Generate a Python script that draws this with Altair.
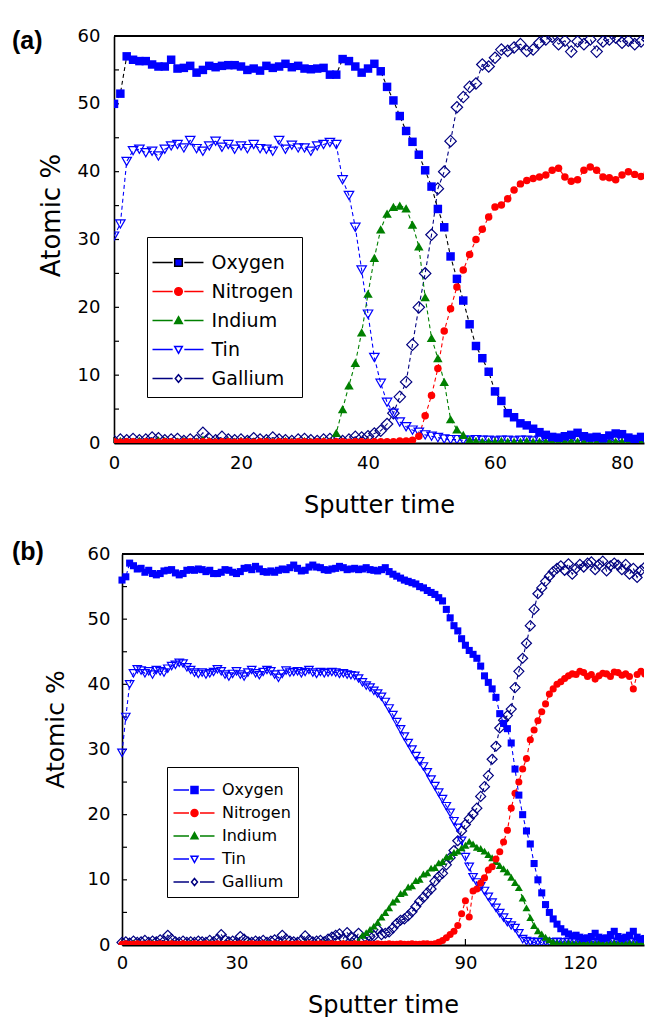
import altair as alt
import pandas as pd

FONT = "DejaVu Sans"
SERIES = ["Oxygen", "Nitrogen", "Indium", "Tin", "Gallium"]
DRAW_ORDER = ["Gallium", "Tin", "Indium", "Nitrogen", "Oxygen"]

# ---------------- panel (a) ----------------
A_TIME = list(range(85))
A_OXYGEN = [50.0, 51.5, 57.0, 56.5, 56.3, 56.3, 55.8, 55.5, 55.5, 56.5,
            55.2, 55.3, 55.6, 54.6, 55.0, 55.6, 55.4, 55.6, 55.7, 55.7,
            55.5, 55.0, 55.2, 54.9, 55.6, 55.3, 55.5, 55.9, 55.4, 55.6,
            55.2, 55.1, 55.2, 55.3, 54.3, 54.3, 56.6, 56.3, 55.5, 54.6,
            55.2, 55.9, 54.8, 52.5, 50.5, 48.2, 46.0, 44.4, 42.5, 40.2,
            37.8, 34.5, 31.8, 27.5, 24.2, 21.0, 17.5, 14.3, 12.5, 10.5,
            7.6, 6.2, 4.4, 3.8, 2.9, 2.6, 2.1, 1.6, 1.2, 0.9,
            0.8, 1.0, 1.2, 1.5, 1.0, 0.8, 0.9, 0.7, 1.1, 1.4,
            1.3, 0.8, 0.6, 0.9, 0.7]
A_NITROGEN = [0.2, 0.1, 0.2, 0.2, 0.1, 0.2, 0.2, 0.1, 0.2, 0.2,
              0.1, 0.2, 0.2, 0.1, 0.2, 0.2, 0.1, 0.2, 0.2, 0.1,
              0.2, 0.2, 0.1, 0.2, 0.2, 0.1, 0.2, 0.2, 0.1, 0.2,
              0.2, 0.1, 0.2, 0.2, 0.1, 0.2, 0.2, 0.1, 0.2, 0.2,
              0.1, 0.2, 0.2, 0.2, 0.2, 0.3, 0.3, 0.4, 1.0, 4.0,
              7.0, 11.0, 16.5, 19.8, 23.0, 25.5, 27.8, 30.0, 31.5, 33.3,
              34.8, 35.1, 36.0, 37.3, 38.2, 38.7, 39.0, 39.2, 39.5, 40.2,
              40.5, 39.2, 38.6, 38.8, 40.2, 40.7, 40.2, 39.2, 39.1, 38.8,
              39.5, 40.0, 39.6, 39.3, 39.8]
A_INDIUM = [0.2, 0.3, 0.2, 0.2, 0.3, 0.2, 0.2, 0.4, 0.3, 0.2,
            0.2, 0.3, 0.2, 0.2, 0.5, 0.3, 0.2, 0.2, 0.3, 0.2,
            0.2, 0.3, 0.2, 0.2, 0.3, 0.2, 0.2, 0.3, 0.2, 0.2,
            0.3, 0.2, 0.2, 0.3, 0.2, 1.5, 5.0, 8.5, 11.8, 16.3,
            22.0, 27.3, 31.5, 33.8, 34.8, 35.0, 34.6, 32.2, 29.0, 21.5,
            15.5, 12.5, 9.0, 3.5, 2.0, 1.2, 0.5, 0.3, 0.2, 0.2,
            0.2, 0.3, 0.2, 0.2, 0.2, 0.3, 0.2, 0.2, 0.2, 0.2,
            0.2, 0.2, 0.3, 0.2, 0.2, 0.2, 0.2, 0.3, 0.2, 0.2,
            0.2, 0.2, 0.2, 0.3, 0.2]
A_TIN = [30.5, 32.3, 41.5, 43.1, 43.3, 42.8, 43.0, 42.3, 43.3, 43.8,
         44.0, 43.5, 44.6, 43.4, 43.0, 43.8, 44.5, 43.6, 44.0, 43.3,
         43.8, 43.4, 44.0, 43.4, 43.3, 43.0, 44.6, 43.3, 43.9, 43.5,
         43.5, 43.0, 43.8, 44.0, 44.3, 44.0, 38.8, 36.5, 31.8, 25.5,
         19.0, 12.6, 8.8, 6.0, 4.4, 3.1, 2.4, 1.9, 1.6, 1.2,
         1.0, 0.8, 0.6, 0.5, 0.5, 0.4, 0.4, 0.5, 0.4, 0.4,
         0.3, 0.4, 0.4, 0.3, 0.4, 0.4, 0.3, 0.4, 0.4, 0.3,
         0.4, 0.3, 0.4, 0.4, 0.3, 0.4, 0.4, 0.3, 0.4, 0.4,
         0.3, 0.4, 0.4, 0.3, 0.4]
A_GALLIUM = [0.3, 0.5, 0.4, 0.6, 0.4, 0.5, 0.8, 0.7, 0.4, 0.5,
             0.6, 0.3, 0.5, 0.4, 1.5, 0.6, 0.4, 0.9, 0.5, 0.4,
             0.5, 0.3, 0.7, 0.5, 0.4, 0.8, 0.5, 0.4, 0.3, 0.5,
             0.6, 0.4, 0.3, 0.5, 0.6, 0.7, 0.3, 0.5, 0.9, 0.8,
             1.0, 1.4, 1.8, 2.8, 4.4, 6.8, 9.0, 14.5, 20.0, 25.0,
             30.7, 37.5, 40.0, 44.5, 49.5, 51.0, 52.5, 53.0, 55.8, 55.5,
             56.8, 58.0, 57.8, 58.3, 58.8, 57.8, 58.0, 59.0, 59.5, 59.9,
             58.8, 59.3, 57.7, 59.2, 58.8, 59.5, 57.7, 59.2, 59.5, 59.8,
             59.0, 59.3, 58.8, 59.2, 59.5]

# ---------------- panel (b) ----------------
B_TIME = list(range(138))
B_OXYGEN = [56.0, 56.5, 58.6, 58.2, 57.7, 57.8, 57.2, 57.5, 57.0, 56.8,
            57.0, 57.4, 57.5, 57.6, 57.1, 56.8, 57.0, 57.5, 57.6, 57.5,
            57.7, 57.6, 57.3, 57.5, 57.0, 57.0, 57.2, 57.6, 57.5, 57.2,
            57.0, 57.3, 57.8, 57.9, 57.6, 58.1, 57.7, 57.3, 57.2, 57.4,
            57.2, 57.5, 57.7, 57.6, 57.9, 58.3, 57.8, 57.4, 57.5, 58.0,
            58.3, 58.0, 57.9, 57.6, 57.5, 57.7, 57.8, 58.1, 57.9, 57.6,
            57.7, 57.8, 57.6, 57.7, 57.9, 57.6, 57.5, 57.4, 57.6, 57.9,
            57.3, 56.9, 56.6, 56.3, 56.0, 55.8, 55.6, 55.4, 55.0, 54.8,
            54.4, 54.1, 53.8, 53.3, 52.8, 51.5, 50.2, 49.0, 48.2, 47.0,
            46.0, 45.2, 44.6, 44.0, 42.8, 41.3, 40.3, 39.3, 38.0, 35.5,
            34.0, 33.2, 31.0, 27.0, 23.0, 20.0, 17.5, 15.5, 12.5, 10.0,
            8.0, 6.2, 5.0, 4.0, 3.2, 2.5, 2.0, 1.7, 1.4, 1.5,
            1.2, 1.0, 1.1, 1.3, 1.8, 1.2, 1.0, 1.1, 1.6, 2.1,
            1.3, 1.0, 1.2, 1.5, 2.1, 1.2, 0.9, 1.0]
B_NITROGEN = [0.1, 0.2, 0.1, 0.1, 0.2, 0.1, 0.1, 0.2, 0.1, 0.1,
              0.2, 0.1, 0.1, 0.2, 0.1, 0.1, 0.2, 0.1, 0.1, 0.2,
              0.1, 0.1, 0.2, 0.1, 0.1, 0.2, 0.1, 0.1, 0.2, 0.1,
              0.1, 0.2, 0.1, 0.1, 0.2, 0.1, 0.1, 0.2, 0.1, 0.1,
              0.2, 0.1, 0.1, 0.2, 0.1, 0.1, 0.2, 0.1, 0.1, 0.2,
              0.1, 0.1, 0.2, 0.1, 0.1, 0.2, 0.1, 0.1, 0.2, 0.1,
              0.1, 0.2, 0.1, 0.1, 0.2, 0.1, 0.1, 0.2, 0.1, 0.1,
              0.2, 0.1, 0.1, 0.2, 0.1, 0.1, 0.2, 0.1, 0.1, 0.2,
              0.2, 0.1, 0.2, 0.4, 0.7, 1.1, 1.6, 2.1, 3.0, 4.8,
              6.8, 4.3, 8.3, 8.6, 9.5, 10.3, 11.5, 12.0, 13.2, 14.3,
              15.8, 17.6, 21.0, 23.3, 25.0, 27.0, 28.6, 31.5, 33.0, 34.4,
              35.8, 37.0, 38.5, 39.3, 40.0, 40.4, 40.9, 41.3, 41.6, 41.5,
              42.0, 41.8, 41.2, 41.5, 40.8, 41.3, 41.7, 41.6, 41.2, 41.9,
              41.8, 41.4, 41.6, 41.2, 39.3, 41.5, 42.0, 41.6]
B_INDIUM = [0.2, 0.1, 0.2, 0.3, 0.2, 0.1, 0.2, 0.2, 0.3, 0.2,
            0.1, 0.2, 0.2, 0.3, 0.2, 0.1, 0.2, 0.2, 0.3, 0.2,
            0.1, 0.2, 0.2, 0.3, 0.2, 0.1, 0.2, 0.2, 0.3, 0.2,
            0.1, 0.2, 0.2, 0.3, 0.2, 0.1, 0.2, 0.2, 0.3, 0.2,
            0.1, 0.2, 0.2, 0.3, 0.2, 0.1, 0.2, 0.2, 0.3, 0.2,
            0.1, 0.2, 0.2, 0.3, 0.2, 0.1, 0.2, 0.2, 0.3, 0.2,
            0.2, 0.3, 0.6, 1.5, 1.9, 2.4, 2.9, 3.5, 4.3, 5.0,
            5.7, 6.6, 7.0, 7.9, 8.1, 8.9, 9.1, 9.9, 10.1, 10.9,
            11.1, 11.8, 11.9, 12.6, 12.8, 13.5, 13.6, 14.2, 14.4, 14.9,
            15.3, 15.9, 15.5, 15.0, 14.8, 14.4, 13.9, 13.4, 12.8, 12.2,
            11.7, 11.2, 10.4, 9.6, 8.8, 7.2, 5.7, 4.2, 3.0, 2.2,
            1.7, 1.2, 0.8, 0.5, 0.3, 0.2, 0.2, 0.3, 0.2, 0.2,
            0.2, 0.3, 0.2, 0.2, 0.2, 0.3, 0.2, 0.2, 0.2, 0.3,
            0.2, 0.2, 0.2, 0.3, 0.2, 0.2, 0.2, 0.3]
B_TIN = [29.5, 35.0, 40.0, 41.7, 42.3, 42.1, 41.7, 42.0, 41.5, 42.2,
         42.0, 41.8, 42.4, 42.8, 43.0, 43.3, 43.2, 42.6, 42.2, 41.8,
         41.6, 41.8, 41.5, 41.7, 41.9, 42.3, 42.0, 41.5, 41.2, 41.6,
         42.0, 41.5, 41.2, 41.8, 42.2, 41.7, 41.4, 41.9, 42.2, 42.0,
         41.5, 41.0, 41.6, 42.1, 41.8, 41.9, 42.0, 41.7, 41.9, 42.2,
         41.8, 41.6, 41.9, 41.7, 41.8, 41.9, 41.8, 41.6, 41.7, 41.5,
         41.4, 41.3, 40.9, 40.3, 39.8, 39.5, 39.0, 38.6, 38.1, 37.3,
         36.3, 35.3, 34.2, 33.1, 32.0, 31.0, 30.0, 29.0, 28.2, 27.4,
         26.5, 25.4, 24.4, 23.4, 22.4, 21.3, 20.3, 19.0, 18.0, 16.0,
         13.5, 12.0, 10.4, 9.6, 9.0, 8.3, 7.4, 6.5, 5.7, 4.9,
         4.2, 3.5, 3.0, 2.6, 1.8, 0.9, 0.6, 0.5, 0.4, 0.5,
         0.4, 0.5, 0.4, 0.4, 0.5, 0.4, 0.4, 0.5, 0.4, 0.4,
         0.5, 0.4, 0.4, 0.5, 0.4, 0.4, 0.5, 0.4, 0.4, 0.5,
         0.4, 0.4, 0.5, 0.4, 0.4, 0.5, 0.4, 0.4]
B_GALLIUM = [0.4, 0.5, 0.3, 0.6, 0.4, 0.5, 0.7, 0.4, 0.6, 0.5,
             0.8, 0.6, 1.5, 0.9, 0.5, 0.4, 0.6, 0.4, 0.5, 0.4,
             0.6, 0.5, 0.4, 0.7, 0.5, 0.9, 1.6, 0.8, 0.5, 0.6,
             0.4, 1.3, 0.9, 0.5, 0.4, 0.6, 0.5, 0.7, 0.4, 0.6,
             0.8, 0.5, 1.5, 0.9, 0.6, 0.5, 0.4, 0.7, 1.4, 0.8,
             0.5, 0.6, 0.7, 0.5, 0.9, 1.2, 1.5, 1.7, 1.0, 1.9,
             1.2, 0.8, 1.8, 0.9, 1.1, 1.3, 1.4, 2.4, 1.6, 1.8,
             2.0, 2.6, 3.3, 3.8, 4.0, 4.5, 5.1, 5.9, 6.7, 7.3,
             8.0, 8.6, 9.8, 10.5, 11.0, 12.3, 13.4, 14.5, 16.0, 17.5,
             18.5, 19.4, 20.1, 21.0, 22.8, 24.3, 26.0, 28.5, 30.5, 33.3,
             34.5, 35.2, 36.2, 39.5, 42.0, 44.0, 46.3, 49.0, 51.5, 53.9,
             54.8, 55.8, 56.6, 57.3, 57.8, 58.2, 57.5, 58.5, 56.9, 57.8,
             58.4, 58.0, 58.6, 58.8, 57.6, 58.4, 58.9, 57.4, 58.2, 58.6,
             58.3, 57.6, 58.4, 56.9, 57.8, 56.4, 57.5, 58.0]

A_XTICKS = [0, 20, 40, 60, 80]
B_XTICKS = [0, 30, 60, 90, 120]
Y_LABELS = [0, 10, 20, 30, 40, 50, 60]
Y_TICKS = [0, 5, 10, 15, 20, 25, 30, 35, 40, 45, 50, 55, 60]

STYLE_A = {
    "Oxygen":   dict(line="#000000", color="#0000ff", shape="square", filled=True, size=72, lfill="#0000ff"),
    "Nitrogen": dict(line="#ff0000", color="#ff0000", shape="circle", filled=True, size=56, lfill="#ff0000"),
    "Indium":   dict(line="#008000", color="#008000", shape="triangle-up", filled=True, size=90, lfill="#008000"),
    "Tin":      dict(line="#0000ff", color="#0000ff", shape="triangle-down", filled=False, size=90, lfill="#ffffff"),
    "Gallium":  dict(line="#000080", color="#000080", shape="diamond", filled=False, size=130, lfill="#ffffff"),
}
STYLE_B = {
    "Oxygen":   dict(line="#0000ff", color="#0000ff", shape="square", filled=True, size=50, lfill="#0000ff"),
    "Nitrogen": dict(line="#ff0000", color="#ff0000", shape="circle", filled=True, size=50, lfill="#ff0000"),
    "Indium":   dict(line="#008000", color="#008000", shape="triangle-up", filled=True, size=64, lfill="#008000"),
    "Tin":      dict(line="#0000ff", color="#0000ff", shape="triangle-down", filled=False, size=72, lfill="#ffffff"),
    "Gallium":  dict(line="#000080", color="#000080", shape="diamond", filled=False, size=100, lfill="#ffffff"),
}


def legend_path(shape, r, left, mid, right, half, gap):
    u = lambda p: round(p / r, 3)
    L, M, R, H, G = u(left), u(mid), u(right), u(half), u(gap)
    line = f"M{L},0H{round(M - H - G, 3)}M{round(M + H + G, 3)},0H{R}"
    if shape == "square":
        m = f"M{M - H},{-H}H{M + H}V{H}H{M - H}Z"
    elif shape == "circle":
        m = f"M{M - H},0A{H},{H},0,1,0,{M + H},0A{H},{H},0,1,0,{M - H},0Z"
    elif shape == "triangle-up":
        m = f"M{M},{-H}L{M + H},{0.8 * H}L{M - H},{0.8 * H}Z"
    elif shape == "triangle-down":
        m = f"M{M},{H}L{M + H},{-0.8 * H}L{M - H},{-0.8 * H}Z"
    else:
        m = f"M{M},{-H}L{M + 0.85 * H},0L{M},{H}L{M - 0.85 * H},0Z"
    return line + m


def long_df(time, cols):
    rows = []
    for name, vals in zip(SERIES, cols):
        for t, v in zip(time, vals):
            rows.append({"series": name, "t": t, "v": v})
    return pd.DataFrame(rows)


def panel(time, cols, style, xdom, xticks, W, H, x0, ax, lg, tag, tag_x, tag_y):
    df = long_df(time, cols)
    xs = alt.Scale(domain=xdom, range=[x0, W], nice=False, zero=False)
    ys = alt.Scale(domain=[0, 60], nice=False, zero=False)
    xaxis = alt.Axis(values=xticks, title="Sputter time", ticks=False, grid=False,
                     domainColor="black", domainWidth=1.8, labelFont=FONT,
                     labelFontSize=ax["xlabel"], labelColor="black", labelFlush=False,
                     labelOverlap=False, labelPadding=ax["xlabpad"], titleFont=FONT,
                     titleFontSize=ax["xtitle"], titleFontWeight="normal",
                     titleColor="black", titlePadding=ax["xtitpad"])
    yaxis = alt.Axis(values=Y_LABELS, title="Atomic %", ticks=False, grid=False,
                     domainColor="black", domainWidth=1.6, labelFont=FONT,
                     labelFontSize=ax["ylabel"], labelColor="black", labelFlush=False,
                     labelOverlap=False, labelPadding=ax["ylabpad"], titleFont=FONT,
                     titleFontSize=ax["ytitle"], titleFontWeight="normal",
                     titleColor="black", titlePadding=ax["ytitpad"], titleY=ax["ytitley"],
                     offset=-x0)
    X = alt.X("t:Q", scale=xs, axis=xaxis)
    Y = alt.Y("v:Q", scale=ys, axis=yaxis)

    layers = []
    layers.append(alt.Chart(pd.DataFrame({"v": Y_TICKS})).mark_rule(color="black", strokeWidth=1.2)
                  .encode(y=Y, x=alt.value(x0), x2=alt.value(x0 + 5)))
    layers.append(alt.Chart(pd.DataFrame({"t": xticks})).mark_rule(color="black", strokeWidth=1.2)
                  .encode(x=X, y=alt.value(H), y2=alt.value(H - 6)))
    layers.append(alt.Chart(pd.DataFrame({"v": [60]})).mark_rule(color="black", strokeWidth=1.8)
                  .encode(y=Y, x=alt.value(x0), x2=alt.value(W)))

    for name in DRAW_ORDER:
        st = style[name]
        layers.append(alt.Chart(df).transform_filter(alt.datum.series == name)
                      .mark_line(color=st["line"], strokeWidth=1.1, strokeDash=[4, 3], clip=True)
                      .encode(x=X, y=Y))
    for name in DRAW_ORDER:
        st = style[name]
        layers.append(alt.Chart(df).transform_filter(alt.datum.series == name)
                      .mark_point(shape=st["shape"], filled=st["filled"], size=st["size"],
                                  color=st["color"], opacity=1, strokeWidth=1.2, clip=True)
                      .encode(x=X, y=Y))

    r = lg["r"]
    paths = [legend_path(style[n]["shape"], r, lg["left"], lg["mid"], lg["right"],
                         lg["half"], lg["gap"]) for n in SERIES]
    legend = alt.Legend(title=" ", titleFontSize=lg["tfont"], titlePadding=lg["tpad"],
                        orient="none", legendX=lg["x"], legendY=lg["y"],
                        padding=lg["pad"], rowPadding=lg["rowpad"], labelOffset=lg["laboff"],
                        labelFont=FONT, labelFontSize=lg["font"], labelColor="black",
                        labelLimit=400, symbolSize=(2 * r) ** 2, symbolStrokeWidth=1.5,
                        strokeColor="black", fillColor="white", symbolOpacity=1)
    layers.append(
        alt.Chart(pd.DataFrame({"series": SERIES}))
        .transform_filter("datum.series == 'none'")
        .mark_point(opacity=1, filled=False, size=(2 * r) ** 2, strokeWidth=1.5)
        .encode(
            color=alt.Color("series:N", scale=alt.Scale(domain=SERIES, range=[style[n]["line"] for n in SERIES]), legend=legend),
            fill=alt.Fill("series:N", scale=alt.Scale(domain=SERIES, range=[style[n]["lfill"] for n in SERIES]), legend=legend),
            shape=alt.Shape("series:N", scale=alt.Scale(domain=SERIES, range=paths), legend=legend),
        )
    )
    layers.append(alt.Chart(pd.DataFrame({"tag": [tag]}))
                  .mark_text(align="left", baseline="alphabetic", font="Liberation Sans",
                             fontSize=25, fontWeight="bold", color="black")
                  .encode(text="tag:N", x=alt.value(tag_x), y=alt.value(tag_y)))
    return alt.layer(*layers).properties(width=W, height=H)


panel_a = panel(
    A_TIME, [A_OXYGEN, A_NITROGEN, A_INDIUM, A_TIN, A_GALLIUM], STYLE_A,
    [0, 83.46], A_XTICKS, 530, 407, 0,
    dict(xlabel=18, xlabpad=11.5, xtitle=24, xtitpad=20.5,
         ylabel=18, ylabpad=14, ytitle=26, ytitpad=13, ytitley=179),
    dict(r=5, left=-12, mid=14, right=39, half=3.8, gap=2, x=33, y=201, pad=8,
         rowpad=9, laboff=37.6, font=19, tfont=6, tpad=2),
    "(a)", -102, 13)

panel_b = panel(
    B_TIME, [B_OXYGEN, B_NITROGEN, B_INDIUM, B_TIN, B_GALLIUM], STYLE_B,
    [0, 136.8], B_XTICKS, 530, 391, 8,
    dict(xlabel=18, xlabpad=9.5, xtitle=24, xtitpad=20.5,
         ylabel=18, ylabpad=12, ytitle=25, ytitpad=19, ytitley=175),
    dict(r=4, left=-8.5, mid=12.5, right=32.5, half=3.5, gap=2, x=53, y=213, pad=7,
         rowpad=7, laboff=32, font=16, tfont=6, tpad=2),
    "(b)", -102, 6)

chart = (
    alt.vconcat(panel_a, panel_b, spacing=23)
    .resolve_scale(x="independent", y="independent", color="independent",
                   fill="independent", shape="independent")
    .properties(padding={"left": 12, "top": 27, "right": 0, "bottom": 0})
    .configure_view(stroke=None)
)

chart.save("out.html", embed_options={"renderer": "svg", "actions": False})
